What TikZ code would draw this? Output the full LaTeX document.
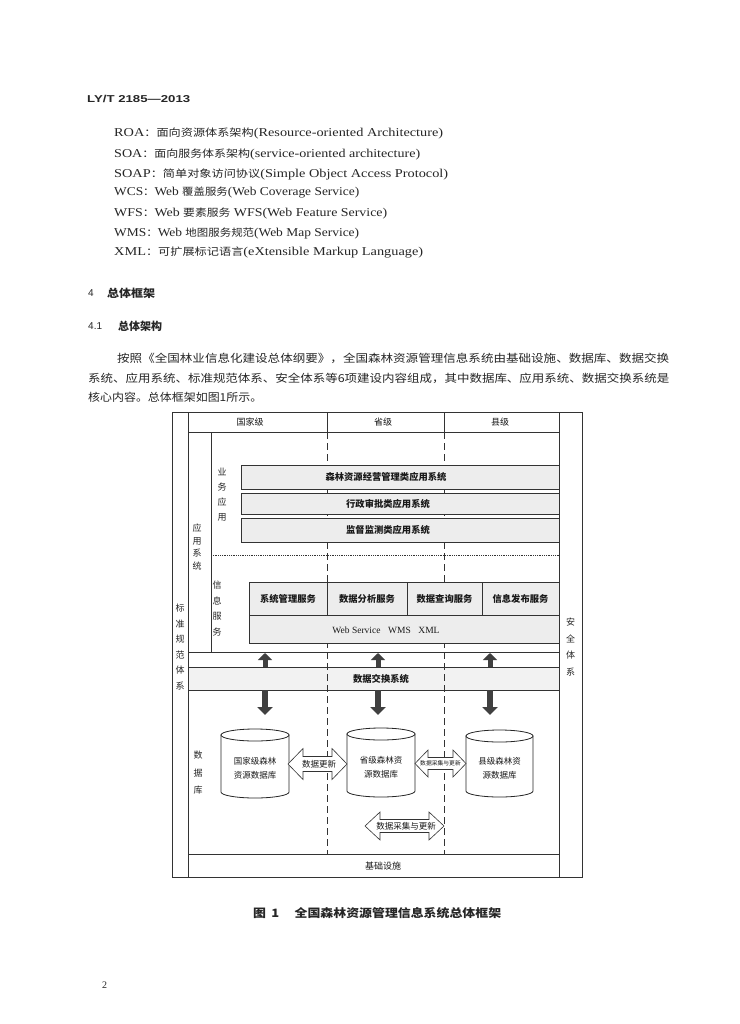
\documentclass[tikz,border=0pt]{standalone}
\usepackage{fontspec}
\usepackage{graphicx}
\setmainfont{Liberation Serif}
\newfontfamily\cjk{Noto Sans CJK SC}
\newfontfamily\hsans{Liberation Sans}
\usetikzlibrary{arrows.meta}

\newcommand\fitline[5]{\node[anchor=west,inner sep=0pt,text=black!85] (#1) at (#2,#3) {\resizebox{#4pt}{\height}{#5}};}
\newcommand\abbr[2]{\fontsize{12}{14}\selectfont #1{\cjk\fontsize{10.2}{12}\selectfont #2}}
\newcommand\zhp{\cjk\fontsize{11}{13}\selectfont}

% cylinder: name, cx, ytop, ybot, rx, ry, text
\newcommand\cyl[7]{%
  \draw[cylst] (#2-#5,#3) -- (#2-#5,#4) arc[start angle=180,end angle=0,x radius=#5,y radius=#6] -- (#2+#5,#3) -- cycle;
  \draw[cylst] (#2,#3) ellipse[x radius=#5,y radius=#6];
  \node[cyltext] (#1) at (#2,{(#3+#4)/2+5}) {#7};
}
% double block arrow: x1, x2, yc, H, h, L
\newcommand\dblarrow[6]{%
  \draw[blockarrow] (#1,#3) -- (#1+#6,#3-#4) -- (#1+#6,#3-#5) -- (#2-#6,#3-#5) -- (#2-#6,#3-#4) -- (#2,#3)
    -- (#2-#6,#3+#4) -- (#2-#6,#3+#5) -- (#1+#6,#3+#5) -- (#1+#6,#3+#4) -- cycle;
}

\begin{document}
\begin{tikzpicture}[x=1pt,y=-1pt,
  ln/.style={draw=black!80, line width=0.8pt},
  gbox/.style={draw=black!80, line width=0.7pt, fill=black!7, inner sep=0pt},
  dl/.style={font=\cjk\fontsize{9}{11}\selectfont, text=black!90, inner sep=0pt},
  dlb/.style={font=\cjk\bfseries\fontsize{9.3}{11}\selectfont, text=black!90, inner sep=0pt},
  cyltext/.style={font=\cjk\fontsize{8.5}{14}\selectfont, align=center, text=black!90, inner sep=0pt},
  thickup/.style={line width=5pt, draw=black!75, -{Triangle[width=14pt,length=7pt]}},
  thickdown/.style={line width=6pt, draw=black!75, -{Triangle[width=15pt,length=8pt]}},
  dashl/.style={draw=black!80, line width=0.7pt, dash pattern=on 7pt off 4pt},
  blockarrow/.style={draw=black!80, line width=0.6pt, fill=white},
  cylst/.style={draw=black!85, line width=0.8pt, fill=white},
]
\useasboundingbox[fill=white] (0,0) rectangle (739,1024);

% ---------- page text ----------
\fitline{hdr}{87}{99}{103}{\hsans\bfseries\fontsize{10}{12}\selectfont LY/T 2185—2013}
\fitline{roa}{114}{133}{329}{\abbr{ROA}{：面向资源体系架构}(Resource-oriented Architecture)}
\fitline{soa}{114}{154}{306}{\abbr{SOA}{：面向服务体系架构}(service-oriented architecture)}
\fitline{soap}{114}{174}{334}{\abbr{SOAP}{：简单对象访问协议}(Simple Object Access Protocol)}
\fitline{wcs}{114}{193}{245}{\abbr{WCS}{：}Web {\cjk\fontsize{10.2}{12}\selectfont 覆盖服务}(Web Coverage Service)}
\fitline{wfs}{114}{213}{273}{\abbr{WFS}{：}Web {\cjk\fontsize{10.2}{12}\selectfont 要素服务} WFS(Web Feature Service)}
\fitline{wms}{114}{233}{245}{\abbr{WMS}{：}Web {\cjk\fontsize{10.2}{12}\selectfont 地图服务规范}(Web Map Service)}
\fitline{xml}{114}{252}{309}{\abbr{XML}{：可扩展标记语言}(eXtensible Markup Language)}

\node[anchor=west,inner sep=0pt,text=black!85] (s4n) at (88,293) {\hsans\fontsize{10}{12}\selectfont 4};
\fitline{s4t}{107}{293}{48}{\cjk\bfseries\fontsize{11}{13}\selectfont 总体框架}
\node[anchor=west,inner sep=0pt,text=black!85] (s41n) at (88,326) {\hsans\fontsize{10}{12}\selectfont 4.1};
\fitline{s41t}{118}{326}{44}{\cjk\bfseries\fontsize{11}{13}\selectfont 总体架构}

\fitline{p1}{117}{358}{552}{\zhp 按照《全国林业信息化建设总体纲要》，全国森林资源管理信息系统由基础设施、数据库、数据交换}
\fitline{p2}{88}{378}{581}{\zhp 系统、应用系统、标准规范体系、安全体系等6项建设内容组成，其中数据库、应用系统、数据交换系统是}
\fitline{p3}{88}{397}{174}{\zhp 核心内容。总体框架如图1所示。}

\fitline{cap}{253}{913}{248}{\cjk\bfseries\fontsize{11.5}{13}\selectfont 图\hspace{0.4em}1\hspace{1.2em}全国森林资源管理信息系统总体框架}
\node[anchor=west,inner sep=0pt,text=black!85] (pg) at (102,985) {\fontsize{10}{12}\selectfont 2};

% ---------- diagram ----------
% exchange box (behind dashed lines)
\node[draw=black!80, line width=0.7pt, fill=black!5, minimum width=371pt, minimum height=23pt, inner sep=0pt] (ex) at (373.5,678.5) {};
\node[dlb] (ext) at (381,678.5) {数据交换系统};

% dashed level separators
\coordinate (dA1) at (327,432); \coordinate (dA2) at (327,854);
\coordinate (dB1) at (444,432); \coordinate (dB2) at (444,854);
\draw[dashl] (dA1) -- (dA2);
\draw[dashl] (dB1) -- (dB2);

% frame
\draw[ln, line width=0.9pt] (172,412) rectangle (582,877);
\draw[ln] (188,412) -- (188,877);
\draw[ln] (559,412) -- (559,877);
\draw[ln] (188,432) -- (559,432);
\draw[ln] (327,412) -- (327,432);
\draw[ln] (444,412) -- (444,432);
\draw[ln] (211,432) -- (211,652);
\draw[ln] (188,652) -- (559,652);
\draw[draw=black!80, line width=0.8pt, densely dotted] (211,555) -- (559,555);
\draw[ln] (188,854) -- (559,854);

% header
\node[dl] (lv1) at (250,422) {国家级};
\node[dl] (lv2) at (383,422) {省级};
\node[dl] (lv3) at (500,422) {县级};

% vertical labels
\node[font=\cjk\fontsize{9}{15.6}\selectfont, align=center, inner sep=0pt, text=black!85] (std) at (180,647) {标\\准\\规\\范\\体\\系};
\node[font=\cjk\fontsize{9}{16.5}\selectfont, align=center, inner sep=0pt, text=black!85] (sec) at (570.5,647) {安\\全\\体\\系};
\node[font=\cjk\fontsize{9}{12.5}\selectfont, align=center, inner sep=0pt, text=black!85] (appsys) at (197,547) {应\\用\\系\\统};
\node[font=\cjk\fontsize{9}{15}\selectfont, align=center, inner sep=0pt, text=black!85] (biz) at (222,495) {业\\务\\应\\用};
\node[font=\cjk\fontsize{9}{15.7}\selectfont, align=center, inner sep=0pt, text=black!85] (info) at (217,608.5) {信\\息\\服\\务};
\node[font=\cjk\fontsize{9}{17.5}\selectfont, align=center, inner sep=0pt, text=black!85] (dbl) at (198,773) {数\\据\\库};

% application boxes
\node[gbox, minimum width=318pt, minimum height=24pt] (app1) at (400,477) {};
\node[gbox, minimum width=318pt, minimum height=21pt] (app2) at (400,503.5) {};
\node[gbox, minimum width=318pt, minimum height=24pt] (app3) at (400,530) {};
\node[dlb] (app1t) at (386,477) {森林资源经营管理类应用系统};
\node[dlb] (app2t) at (388,503.5) {行政审批类应用系统};
\node[dlb] (app3t) at (388,530) {监督监测类应用系统};

% service boxes
\node[gbox, minimum width=78pt, minimum height=33pt] (sv1) at (288,598.5) {};
\node[gbox, minimum width=80pt, minimum height=33pt] (sv2) at (367,598.5) {};
\node[gbox, minimum width=75pt, minimum height=33pt] (sv3) at (444.5,598.5) {};
\node[gbox, minimum width=77pt, minimum height=33pt] (sv4) at (520.5,598.5) {};
\node[dlb] at (sv1) {系统管理服务};
\node[dlb] at (sv2) {数据分析服务};
\node[dlb] at (sv3) {数据查询服务};
\node[dlb] at (sv4) {信息发布服务};
\node[gbox, minimum width=310pt, minimum height=28pt] (web) at (404,629) {};
\node[font=\fontsize{9.5}{11}\selectfont, inner sep=0pt, text=black!90] (webt) at (386,630) {Web Service\hspace{0.8em}WMS\hspace{0.8em}XML};

% exchange arrows
\coordinate (u1) at (265,653); \coordinate (u2) at (378,653); \coordinate (u3) at (490,653);
\coordinate (d1) at (265,715); \coordinate (d2) at (378,715); \coordinate (d3) at (490,715);
\foreach \i in {1,2,3} {
  \draw[thickup] (ex.north -| u\i) -- (u\i);
  \draw[thickdown] (ex.south -| d\i) -- (d\i);
}

% databases
\cyl{db1}{255}{735}{792}{34}{6}{国家级森林\\资源数据库}
\cyl{db2}{381}{734}{791}{34}{6}{省级森林资\\源数据库}
\cyl{db3}{499.5}{736}{791}{33.5}{6}{县级森林资\\源数据库}

% data flow block arrows
\dblarrow{288}{347}{764}{15.5}{7.5}{15}
\node[font=\cjk\fontsize{8.5}{10}\selectfont, inner sep=0pt, text=black!90] (f1) at (319,764) {数据更新};
\dblarrow{415}{466}{763.5}{13.5}{6}{13}
\node[font=\cjk\fontsize{5.8}{7}\selectfont, inner sep=0pt, text=black!90] (f2) at (440.5,763.5) {数据采集与更新};
\dblarrow{365}{444}{826}{14}{6.5}{15}
\node[font=\cjk\fontsize{8.5}{10}\selectfont, inner sep=0pt, text=black!90] (f3) at (406,826) {数据采集与更新};

\node[dl] (base) at (383,866) {基础设施};
\end{tikzpicture}
\end{document}
